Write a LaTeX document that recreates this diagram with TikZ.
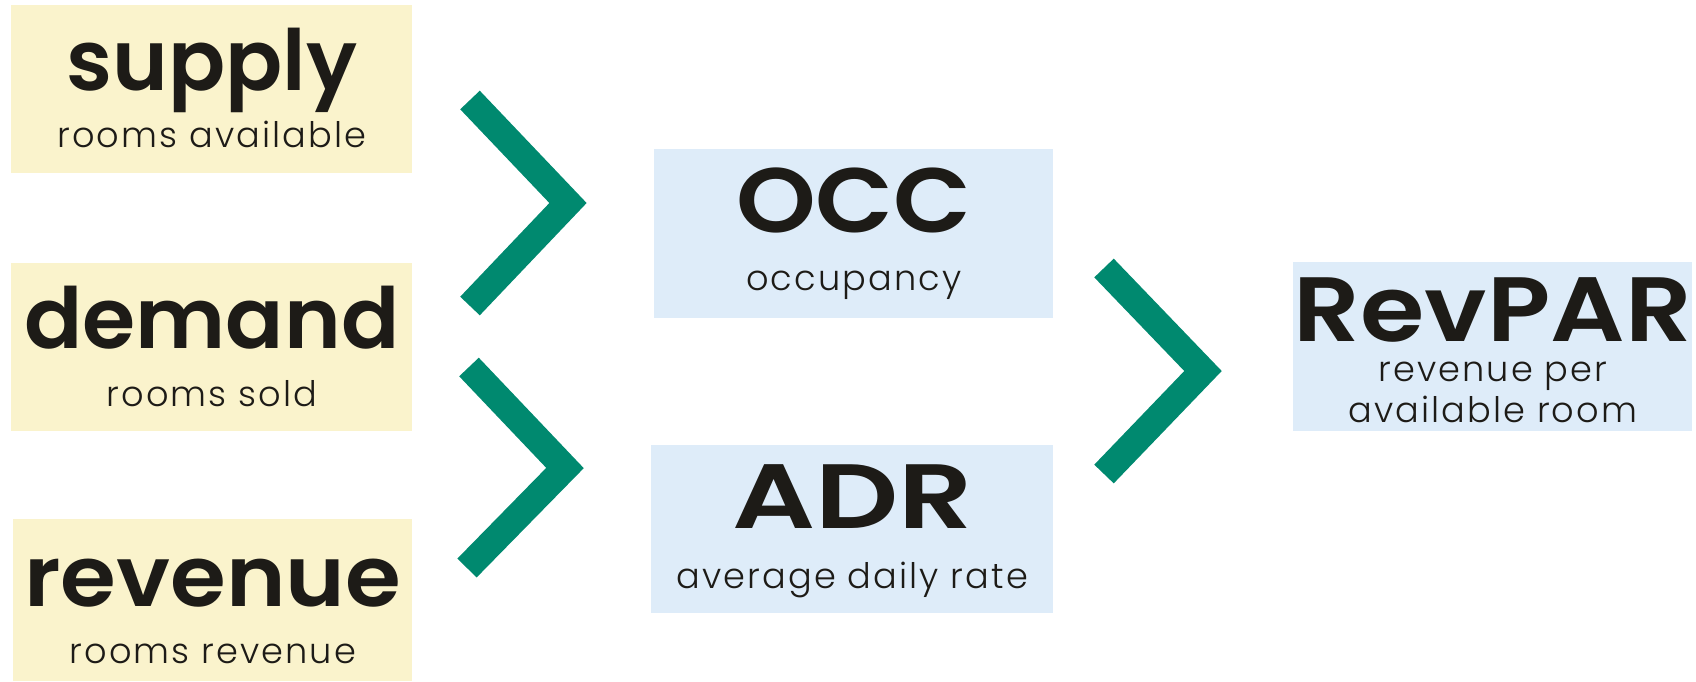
\documentclass[tikz,border=0pt]{standalone}
\usepackage{graphicx}
\usepackage{fontspec}
\setmainfont{Poppins}[BoldFont={Poppins SemiBold}]
\newfontfamily\subfont{Poppins Light}[LetterSpace=6]
\usetikzlibrary{calc}
\usetikzlibrary{positioning}

\definecolor{inputfill}{HTML}{FAF3CC}
\definecolor{kpifill}{HTML}{DEECF9}
\definecolor{chevgreen}{HTML}{00896F}
\definecolor{ink}{HTML}{1D1B17}

\newcommand{\wide}[2]{\scalebox{#1}[1]{#2}}

\tikzset{
  inputbox/.style={fill=inputfill,inner sep=0,minimum width=8.02cm,minimum height=3.36cm,anchor=north west},
  kpibox/.style={fill=kpifill,inner sep=0,minimum width=7.98cm,minimum height=3.38cm,anchor=north west},
  head/.style={text=ink,inner sep=0,anchor=base,font=\fontsize{48}{48}\selectfont\bfseries},
  capshead/.style={head,font=\fontsize{52}{52}\selectfont\bfseries},
  sub/.style={text=ink,inner sep=0,anchor=base,font=\fontsize{20}{20}\selectfont\subfont},
  chevron/.style={draw=chevgreen,line width=0.54cm,line join=miter,line cap=butt}
}

\begin{document}
\begin{tikzpicture}[x=0.02cm,y=-0.02cm]

  \useasboundingbox (0,0) rectangle (1696,681);

  \node [inputbox] (supply) at (11,5) {};
  \node [inputbox] (demand) at (11,263) {};
  \node [inputbox,minimum width=7.98cm,minimum height=3.24cm] (revenue) at (13,519) {};

  \node [head] (supply_head) at ($(supply.north)+(0,85)$) {supply};
  \node [sub] (supply_sub) at ($(supply.north)+(0,142)$) {rooms available};
  \node [head] (demand_head) at ($(demand.north)+(0,85)$) {\wide{1.02}{demand}};
  \node [sub] (demand_sub) at ($(demand.north)+(0,143)$) {rooms sold};
  \node [head] (revenue_head) at ($(revenue.north)+(0,87)$) {\wide{1.07}{revenue}};
  \node [sub] (revenue_sub) at ($(revenue.north)+(0,144)$) {rooms revenue};

  \node [kpibox] (occ) at (654,149) {};
  \node [kpibox,minimum width=8.04cm,minimum height=3.36cm] (adr) at (651,445) {};
  \node [kpibox] (revpar) at (1293,262) {};

  \node [capshead] (occ_head) at ($(occ.north)+(0,83)$) {\wide{1.11}{OCC}};
  \node [sub] (occ_sub) at ($(occ.north)+(0,141)$) {occupancy};
  \node [capshead] (adr_head) at ($(adr.north)+(0,83)$) {\wide{1.27}{ADR}};
  \node [sub] (adr_sub) at ($(adr.north)+(0,143)$) {average daily rate};
  \node [capshead] (revpar_head) at ($(revpar.north)+(0,79)$) {\wide{1.14}{RevPAR}};
  \node [sub,text depth=0pt] (revpar_sub_a) at ($(revpar.north)+(0,119)$) {revenue per};
  \node [sub] (revpar_sub_b) at ($(revpar.north)+(0,160)$) {available room};

  \coordinate (occ_top) at (470,100);
  \coordinate (occ_tip) at (568,203);
  \coordinate (occ_bot) at (470,306);
  \coordinate (adr_top) at (469,367);
  \coordinate (adr_tip) at (565,468);
  \coordinate (adr_bot) at (467,568);
  \coordinate (revpar_top) at (1104,268);
  \coordinate (revpar_tip) at (1203,371);
  \coordinate (revpar_bot) at (1104,474);

  \path [chevron] (occ_top) -- (occ_tip) -- (occ_bot);
  \path [chevron] (adr_top) -- (adr_tip) -- (adr_bot);
  \path [chevron] (revpar_top) -- (revpar_tip) -- (revpar_bot);

\end{tikzpicture}
\end{document}
